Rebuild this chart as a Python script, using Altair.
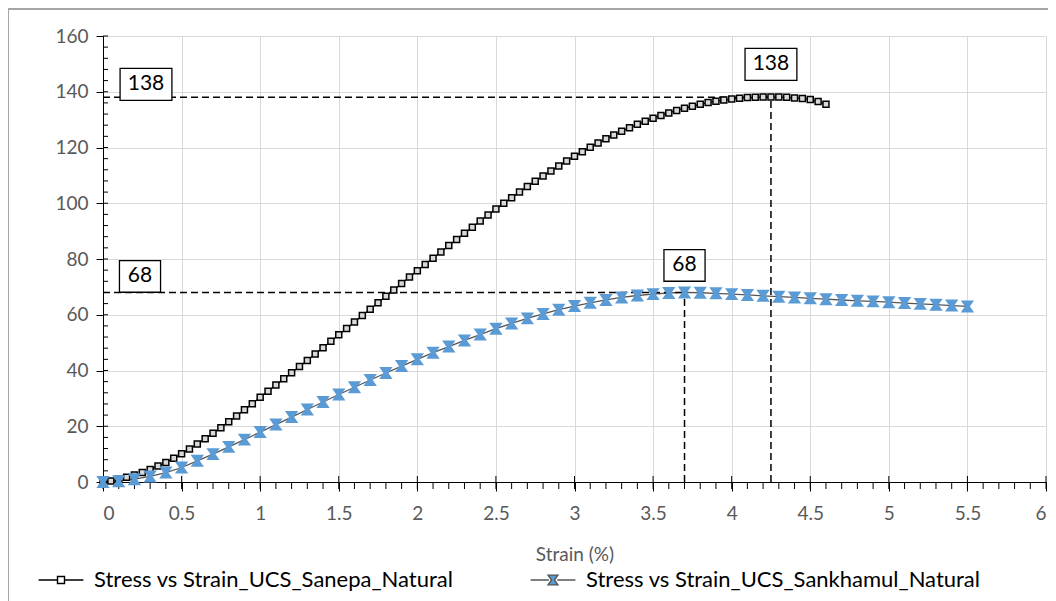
import altair as alt
import pandas as pd

# ---------------- data ----------------
series_names = ["Stress vs Strain_UCS_Sanepa_Natural", "Stress vs Strain_UCS_Sankhamul_Natural"]

sanepa_strain = [0.00, 0.05, 0.10, 0.15, 0.20, 0.25, 0.30, 0.35, 0.40, 0.45,
                 0.50, 0.55, 0.60, 0.65, 0.70, 0.75, 0.80, 0.85, 0.90, 0.95,
                 1.00, 1.05, 1.10, 1.15, 1.20, 1.25, 1.30, 1.35, 1.40, 1.45,
                 1.50, 1.55, 1.60, 1.65, 1.70, 1.75, 1.80, 1.85, 1.90, 1.95,
                 2.00, 2.05, 2.10, 2.15, 2.20, 2.25, 2.30, 2.35, 2.40, 2.45,
                 2.50, 2.55, 2.60, 2.65, 2.70, 2.75, 2.80, 2.85, 2.90, 2.95,
                 3.00, 3.05, 3.10, 3.15, 3.20, 3.25, 3.30, 3.35, 3.40, 3.45,
                 3.50, 3.55, 3.60, 3.65, 3.70, 3.75, 3.80, 3.85, 3.90, 3.95,
                 4.00, 4.05, 4.10, 4.15, 4.20, 4.25, 4.30, 4.35, 4.40, 4.45,
                 4.50, 4.55, 4.60]
sanepa_stress = [0.0, 0.4, 1.0, 1.7, 2.5, 3.4, 4.5, 5.7, 7.0, 8.5,
                 10.1, 11.8, 13.6, 15.5, 17.5, 19.5, 21.6, 23.7, 25.9, 28.1,
                 30.4, 32.6, 34.8, 37.0, 39.2, 41.4, 43.6, 45.9, 48.2, 50.5,
                 52.8, 55.1, 57.4, 59.7, 62.0, 64.3, 66.6, 68.9, 71.2, 73.5,
                 75.8, 78.0, 80.3, 82.5, 84.8, 87.0, 89.2, 91.4, 93.6, 95.8,
                 97.9, 100.0, 102.0, 104.0, 106.0, 107.9, 109.8, 111.6, 113.4, 115.2,
                 116.9, 118.5, 120.1, 121.6, 123.1, 124.5, 125.8, 127.1, 128.3, 129.4,
                 130.5, 131.5, 132.4, 133.3, 134.1, 134.8, 135.5, 136.1, 136.6, 137.0,
                 137.4, 137.7, 137.9, 138.0, 138.1, 138.1, 138.1, 138.0, 137.8, 137.6,
                 137.2, 136.5, 135.5]

sankhamul_strain = [0.0, 0.1, 0.2, 0.3, 0.4, 0.5, 0.6, 0.7, 0.8, 0.9,
                    1.0, 1.1, 1.2, 1.3, 1.4, 1.5, 1.6, 1.7, 1.8, 1.9,
                    2.0, 2.1, 2.2, 2.3, 2.4, 2.5, 2.6, 2.7, 2.8, 2.9,
                    3.0, 3.1, 3.2, 3.3, 3.4, 3.5, 3.6, 3.7, 3.8, 3.9,
                    4.0, 4.1, 4.2, 4.3, 4.4, 4.5, 4.6, 4.7, 4.8, 4.9,
                    5.0, 5.1, 5.2, 5.3, 5.4, 5.5]
sankhamul_stress = [0.0, 0.3, 1.0, 2.0, 3.4, 5.2, 7.6, 10.0, 12.6, 15.2,
                    17.9, 20.6, 23.3, 26.0, 28.7, 31.4, 34.0, 36.6, 39.1, 41.6,
                    44.0, 46.4, 48.6, 50.8, 52.9, 55.0, 56.9, 58.7, 60.3, 61.8,
                    63.1, 64.3, 65.3, 66.2, 66.9, 67.4, 67.8, 68.0, 67.9, 67.7,
                    67.4, 67.1, 66.8, 66.5, 66.2, 65.9, 65.6, 65.3, 65.0, 64.8,
                    64.5, 64.2, 63.9, 63.6, 63.3, 63.0]

peak_strain = [4.25, 3.7]
peak_stress = [138, 68]
peak_labels = ["138", "68"]

x_major = [0, 0.5, 1, 1.5, 2, 2.5, 3, 3.5, 4, 4.5, 5, 5.5, 6]
x_minor = [round(i / 10, 1) for i in range(61)]
y_major = [0, 20, 40, 60, 80, 100, 120, 140, 160]
y_minor = list(range(0, 161, 4))

# ---------------- tables ----------------
df = pd.concat([
    pd.DataFrame({"strain": sanepa_strain, "stress": sanepa_stress, "series": series_names[0]}),
    pd.DataFrame({"strain": sankhamul_strain, "stress": sankhamul_stress, "series": series_names[1]}),
], ignore_index=True)
peaks = pd.DataFrame({"strain": peak_strain, "stress": peak_stress, "label": peak_labels, "zero": [0, 0]})
legend_df = df.groupby("series", as_index=False).first()

FONT = "Lato"
GRAY = "#595959"
BLUE = "#5B9BD5"

xs = alt.Scale(domain=[0, 6], nice=False, zero=True)
ys = alt.Scale(domain=[0, 160], nice=False)

X = alt.X("strain:Q", scale=xs, title="Strain (%)",
          axis=alt.Axis(values=x_major, grid=True, gridColor="#D9D9D9", gridWidth=1,
                        domainColor="#000", domainWidth=1, tickColor="#000", tickSize=9,
                        labelColor=GRAY, labelFont=FONT, labelFontSize=19, labelPadding=13,
                        titleColor=GRAY, titleFont=FONT, titleFontSize=19,
                        titleFontWeight="normal", titlePadding=22,
                        labelExpr="datum.value"))
Y = alt.Y("stress:Q", scale=ys, title=None,
          axis=alt.Axis(values=y_major, grid=True, gridColor="#D9D9D9", gridWidth=1,
                        domainColor="#000", domainWidth=1, tickColor="#000", tickSize=7,
                        labelColor=GRAY, labelFont=FONT, labelFontSize=19, labelPadding=8))

square_path = "M-1,-1H1V1H-1Z"
hour_path = "M-1,-1H1L0.3,0L1,1H-1L-0.3,0Z"
leg_square = "M-6.4,0H-1M1,0H6.4M-1,-1H1V1H-1Z"
leg_hour = "M-6.4,0H-1.2M1.2,0H6.4M-1.4,-1.4H1.4L0.4,0L1.4,1.4H-1.4L-0.4,0Z"

base = alt.Chart(df)

lines = base.mark_line(strokeWidth=1.3).encode(
    x=X, y=Y,
    color=alt.Color("series:N", scale=alt.Scale(domain=series_names, range=["#000000", "#555555"]), legend=None),
)

points = base.mark_point(filled=True, strokeWidth=1.5, opacity=1).encode(
    x="strain:Q", y="stress:Q",
    shape=alt.Shape("series:N", scale=alt.Scale(domain=series_names, range=[square_path, hour_path]), legend=None),
    fill=alt.Fill("series:N", scale=alt.Scale(domain=series_names, range=["#D9D9D9", BLUE]), legend=None),
    stroke=alt.Stroke("series:N", scale=alt.Scale(domain=series_names, range=["#000000", BLUE]), legend=None),
    size=alt.Size("series:N", scale=alt.Scale(domain=series_names, range=[36, 110]), legend=None),
)

leg = alt.Legend(orient="none", legendX=-53, legendY=533, direction="horizontal", title=None,
                 labelFont=FONT, labelFontSize=22, labelColor="#000", labelOffset=22,
                 columnPadding=73, padding=0, symbolSize=49, symbolStrokeWidth=1.4,
                 symbolOpacity=1, labelLimit=700)
legend_layer = alt.Chart(legend_df).mark_point(filled=True, opacity=0, size=49).encode(
    x="strain:Q", y="stress:Q",
    shape=alt.Shape("series:N", scale=alt.Scale(domain=series_names, range=[leg_square, leg_hour]), legend=leg),
    fill=alt.Fill("series:N", scale=alt.Scale(domain=series_names, range=["#FFFFFF", BLUE]), legend=leg),
    stroke=alt.Stroke("series:N", scale=alt.Scale(domain=series_names, range=["#000000", "#555555"]), legend=leg),
)

pk = alt.Chart(peaks)
dash = [7, 4]
h_dash = pk.mark_rule(color="#000", strokeWidth=1.5, strokeDash=dash).encode(
    x=alt.X("zero:Q"), x2="strain:Q", y="stress:Q")
v_dash = pk.mark_rule(color="#000", strokeWidth=1.5, strokeDash=dash).encode(
    x="strain:Q", y=alt.Y("zero:Q"), y2="stress:Q")

# annotation box styles per label: (box path, size, top yOffset, left xOffset, left yOffset)
box_styles = {
    "138": ("M-1.62,-1H1.62V1H-1.62Z", 1024, -33, 43, -13),
    "68": ("M-1.3,-1H1.3V1H-1.3Z", 1000, -27, 37, -16),
}
ann_layers = []
for lab, (path, sz, top_dy, left_dx, left_dy) in box_styles.items():
    sub = pk.transform_filter(alt.datum.label == lab)
    ann_layers += [
        sub.mark_point(shape=path, size=sz, filled=True, fill="#fff", stroke="#000",
                       strokeWidth=1.3, opacity=1, yOffset=top_dy).encode(x="strain:Q", y="stress:Q"),
        sub.mark_text(font=FONT, fontSize=21, color="#000", yOffset=top_dy, baseline="middle").encode(
            x="strain:Q", y="stress:Q", text="label:N"),
        sub.mark_point(shape=path, size=sz, filled=True, fill="#fff", stroke="#000",
                       strokeWidth=1.3, opacity=1, xOffset=left_dx, yOffset=left_dy).encode(x="zero:Q", y="stress:Q"),
        sub.mark_text(font=FONT, fontSize=21, color="#000", xOffset=left_dx, yOffset=left_dy, baseline="middle").encode(
            x="zero:Q", y="stress:Q", text="label:N"),
    ]

# minor / inner ticks
xmin_df = pd.DataFrame({"v": x_minor})
ymin_df = pd.DataFrame({"v": y_minor})
xmaj_df = pd.DataFrame({"v": x_major})
x_minor_ticks = alt.Chart(xmin_df).mark_rule(color="#000", strokeWidth=1).encode(
    x=alt.X("v:Q"), y=alt.value(446), y2=alt.value(453))
x_major_inner = alt.Chart(xmaj_df).mark_rule(color="#000", strokeWidth=1).encode(
    x=alt.X("v:Q"), y=alt.value(440), y2=alt.value(446))
y_minor_ticks = alt.Chart(ymin_df).mark_rule(color="#000", strokeWidth=1).encode(
    y=alt.Y("v:Q"), x=alt.value(0), x2=alt.value(5))

frame_left = alt.Chart(xmaj_df).mark_rule(color="#A6A6A6", strokeWidth=1.5).encode(
    x=alt.value(-95), y=alt.value(-28), y2=alt.value(565))
frame_top = alt.Chart(xmaj_df).mark_rule(color="#A6A6A6", strokeWidth=2).encode(
    y=alt.value(-27), x=alt.value(-95), x2=alt.value(950))

chart = alt.layer(
    lines, h_dash, v_dash, x_minor_ticks, x_major_inner, y_minor_ticks,
    points, legend_layer, *ann_layers, frame_left, frame_top,
).resolve_scale(shape="independent", fill="independent", stroke="independent", color="independent", size="independent"
).properties(
    width=943, height=446,
    autosize=alt.AutoSizeParams(type="none"),
    padding={"left": 95, "top": 28, "right": 2, "bottom": 119},
    background="#FFFFFF",
).configure_view(stroke=None)

chart.save("out.html", embed_options={"renderer": "svg", "actions": False})
